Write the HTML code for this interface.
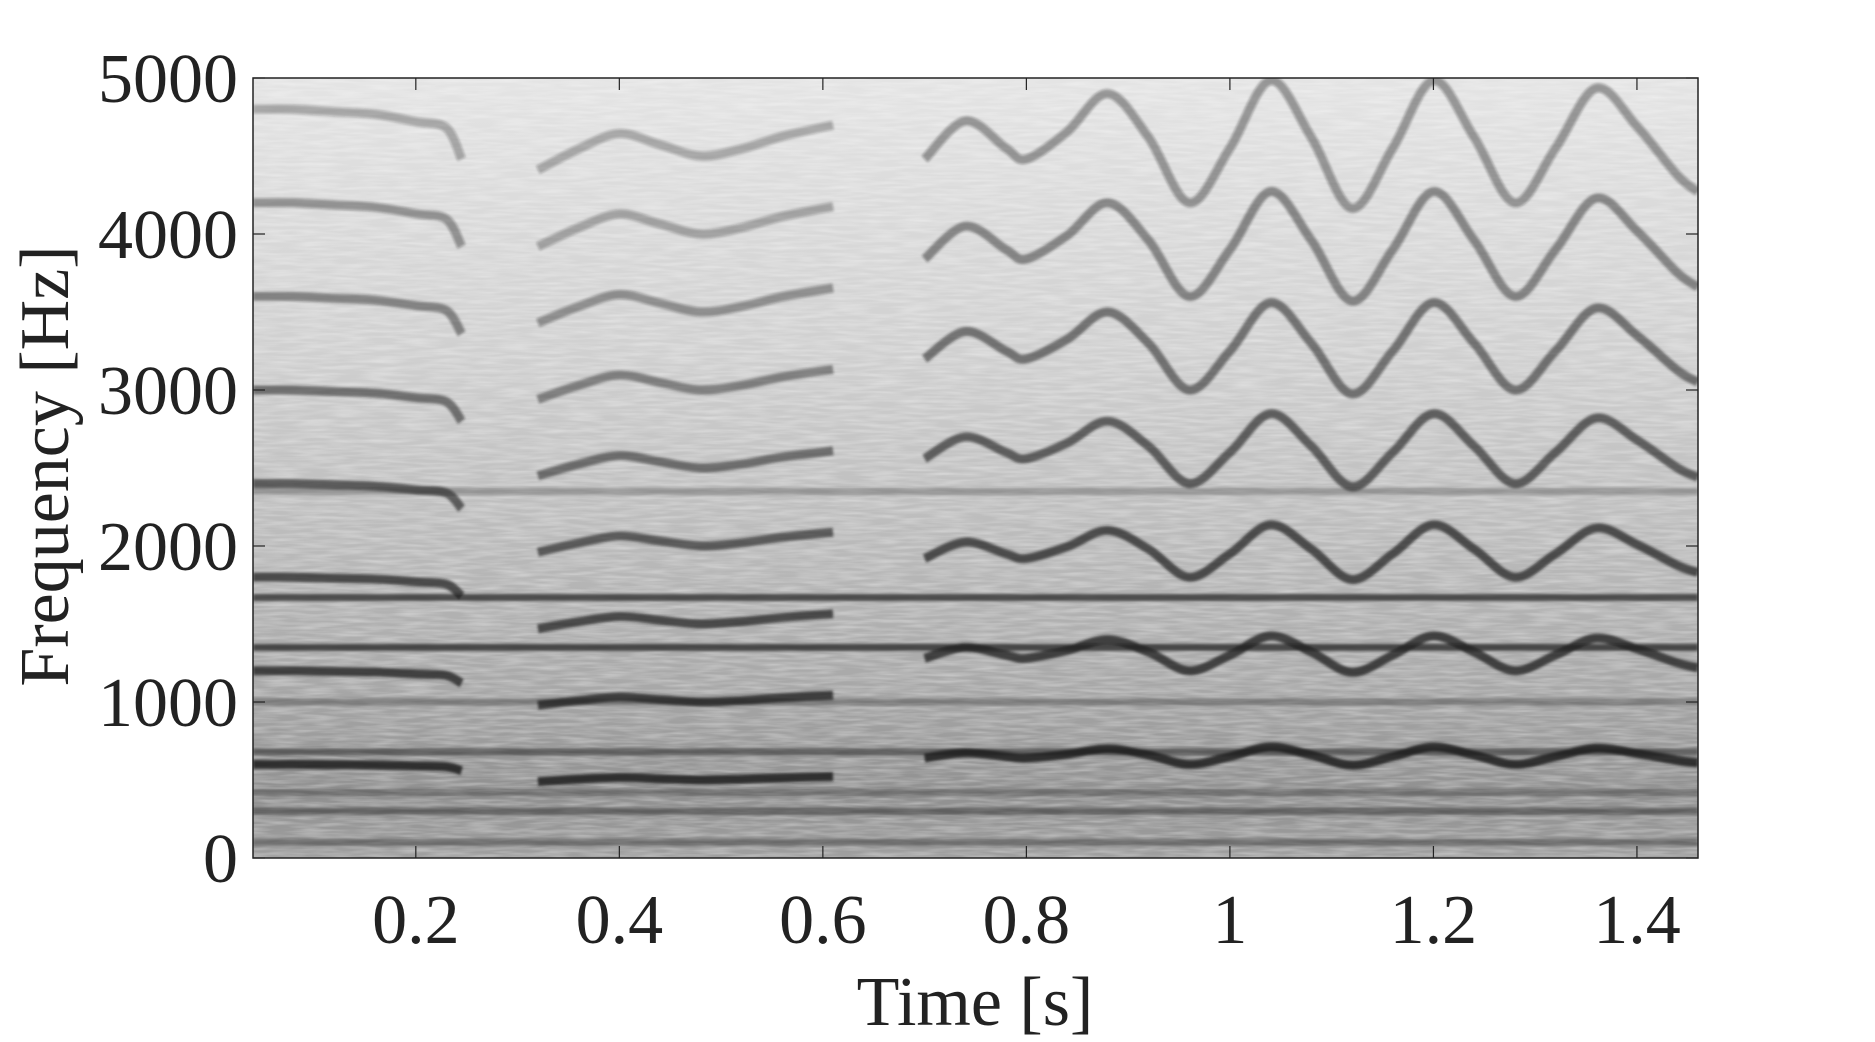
<!DOCTYPE html>
<html><head><meta charset="utf-8"><style>
html,body{margin:0;padding:0;background:#fff;}
svg{display:block;font-family:"Liberation Serif",serif;}
</style></head><body>
<svg id="chart" width="1875" height="1042" viewBox="0 0 1875 1042" xmlns="http://www.w3.org/2000/svg">
<defs>
<linearGradient id="bg" x1="0" y1="0" x2="0" y2="1">
<stop offset="0" stop-color="#e4e4e4"/>
<stop offset="0.35" stop-color="#d0d0d0"/>
<stop offset="0.6" stop-color="#bababa"/>
<stop offset="0.78" stop-color="#a8a8a8"/>
<stop offset="0.92" stop-color="#909090"/>
<stop offset="1" stop-color="#a0a0a0"/>
</linearGradient>
<filter id="noise" x="0" y="0" width="100%" height="100%">
<feTurbulence type="fractalNoise" baseFrequency="0.03 0.3" numOctaves="2" seed="3"/>
<feColorMatrix type="matrix" values="0 0 0 0 1  0 0 0 0 1  0 0 0 0 1  0 0 0 0.6 -0.2"/>
</filter>
<filter id="blur"><feGaussianBlur stdDeviation="1.2"/></filter>
<clipPath id="clip"><rect x="253" y="78" width="1445" height="780"/></clipPath>
</defs>
<rect x="253" y="78" width="1445" height="780" fill="url(#bg)"/>
<rect x="253" y="78" width="1445" height="780" filter="url(#noise)"/>
<g id="marks" clip-path="url(#clip)" filter="url(#blur)"></g>
<rect x="253" y="78" width="1445" height="780" fill="none" stroke="#222" stroke-width="1.5"/>
<g id="ticks"></g>
<text x="975" y="1025" font-size="70" text-anchor="middle" fill="#222">Time [s]</text>
<text x="0" y="0" font-size="70" text-anchor="middle" fill="#222" transform="translate(68,466) rotate(-90)">Frequency [Hz]</text>
</svg>
<script>
const xTicks = [0.2, 0.4, 0.6, 0.8, 1, 1.2, 1.4];
const xTickLabels = ["0.2", "0.4", "0.6", "0.8", "1", "1.2", "1.4"];
const yTicks = [0, 1000, 2000, 3000, 4000, 5000];
const yTickLabels = ["0", "1000", "2000", "3000", "4000", "5000"];
// segment 1
const seg1Times = [0.04, 0.08, 0.12, 0.16, 0.20, 0.23, 0.245];
const seg1F0 = [600, 600, 598, 596, 590, 585, 560];
const seg1Harmonics = [1, 2, 3, 4, 5, 6, 7, 8];
// segment 2
const seg2Times = [0.32, 0.36, 0.40, 0.44, 0.48, 0.52, 0.56, 0.61];
const seg2F0 = [490, 505, 516, 508, 500, 505, 514, 522];
const seg2Harmonics = [1, 2, 3, 4, 5, 6, 7, 8, 9];
// segment 3
const seg3Times = [0.70, 0.74, 0.78, 0.80, 0.84, 0.88, 0.92, 0.96, 1.00, 1.04, 1.08, 1.12, 1.16, 1.20, 1.24, 1.28, 1.32, 1.36, 1.40, 1.44, 1.46];
const seg3F0 = [640, 675, 650, 640, 665, 700, 660, 600, 650, 712, 660, 595, 650, 712, 660, 600, 650, 705, 670, 625, 610];
const seg3Harmonics = [1, 2, 3, 4, 5, 6, 7];
// stationary horizontal lines (Hz) and darkness
const stationaryFreqs = [100, 300, 420, 680, 1000, 1350, 1670, 2350];
const stationaryDark = [0.45, 0.5, 0.35, 0.55, 0.35, 0.8, 0.75, 0.3];

const X0 = 253, X1 = 1698, Y0 = 78, Y1 = 858;
const T0 = 0.04, T1 = 1.46, F0 = 0, F1 = 5000;
function xs(t){ return X0 + (t - T0) / (T1 - T0) * (X1 - X0); }
function ys(f){ return Y1 - (f - F0) / (F1 - F0) * (Y1 - Y0); }
const NS = "http://www.w3.org/2000/svg";
const marks = document.getElementById('marks');
const ticks = document.getElementById('ticks');

stationaryFreqs.forEach((f, i) => {
  const l = document.createElementNS(NS, 'line');
  
  
  l.setAttribute('x1', X0); l.setAttribute('x2', X1);
  l.setAttribute('y1', ys(f)); l.setAttribute('y2', ys(f));
  l.setAttribute('stroke', '#2a2a2a');
  l.setAttribute('stroke-opacity', stationaryDark[i]);
  l.setAttribute('stroke-width', 7);
  marks.appendChild(l);
});

function smoothPath(pts){
  let d = 'M' + pts[0][0] + ',' + pts[0][1];
  for (let i = 0; i < pts.length - 1; i++) {
    const p0 = pts[Math.max(0, i - 1)], p1 = pts[i], p2 = pts[i + 1], p3 = pts[Math.min(pts.length - 1, i + 2)];
    const c1x = p1[0] + (p2[0] - p0[0]) / 6, c1y = p1[1] + (p2[1] - p0[1]) / 6;
    const c2x = p2[0] - (p3[0] - p1[0]) / 6, c2y = p2[1] - (p3[1] - p1[1]) / 6;
    d += ' C' + c1x + ',' + c1y + ' ' + c2x + ',' + c2y + ' ' + p2[0] + ',' + p2[1];
  }
  return d;
}
function drawSeg(times, f0s, harms, name){
  harms.forEach(h => {
    const pts = times.map((t, i) => [xs(t), ys(f0s[i] * h)]);
    const p = document.createElementNS(NS, 'path');
    
    
    p.setAttribute('d', smoothPath(pts));
    p.setAttribute('fill', 'none');
    p.setAttribute('stroke', '#1e1e1e');
    p.setAttribute('stroke-opacity', Math.max(0.3, 0.95 - h * 0.08));
    p.setAttribute('stroke-width', 9);
    marks.appendChild(p);
  });
}
drawSeg(seg1Times, seg1F0, seg1Harmonics, 'segment1');
drawSeg(seg2Times, seg2F0, seg2Harmonics, 'segment2');
drawSeg(seg3Times, seg3F0, seg3Harmonics, 'segment3');

xTicks.forEach((t, i) => {
  const x = xs(t);
  [[Y1, Y1 - 12], [Y0, Y0 + 12]].forEach(([a, b]) => {
    const l = document.createElementNS(NS, 'line');
    
    
    l.setAttribute('x1', x); l.setAttribute('x2', x); l.setAttribute('y1', a); l.setAttribute('y2', b);
    l.setAttribute('stroke', '#222'); l.setAttribute('stroke-width', 1.2);
    ticks.appendChild(l);
  });
  const tx = document.createElementNS(NS, 'text');
  
  
  tx.setAttribute('x', x); tx.setAttribute('y', 943);
  tx.setAttribute('font-size', 70); tx.setAttribute('text-anchor', 'middle'); tx.setAttribute('fill', '#222');
  tx.textContent = xTickLabels[i];
  ticks.appendChild(tx);
});
yTicks.forEach((f, i) => {
  const y = ys(f);
  [[X0, X0 + 12], [X1, X1 - 12]].forEach(([a, b]) => {
    const l = document.createElementNS(NS, 'line');
    
    
    l.setAttribute('x1', a); l.setAttribute('x2', b); l.setAttribute('y1', y); l.setAttribute('y2', y);
    l.setAttribute('stroke', '#222'); l.setAttribute('stroke-width', 1.2);
    ticks.appendChild(l);
  });
  const tx = document.createElementNS(NS, 'text');
  
  
  tx.setAttribute('x', 238); tx.setAttribute('y', y + 24);
  tx.setAttribute('font-size', 70); tx.setAttribute('text-anchor', 'end'); tx.setAttribute('fill', '#222');
  tx.textContent = yTickLabels[i];
  ticks.appendChild(tx);
});
</script>
</body></html>
